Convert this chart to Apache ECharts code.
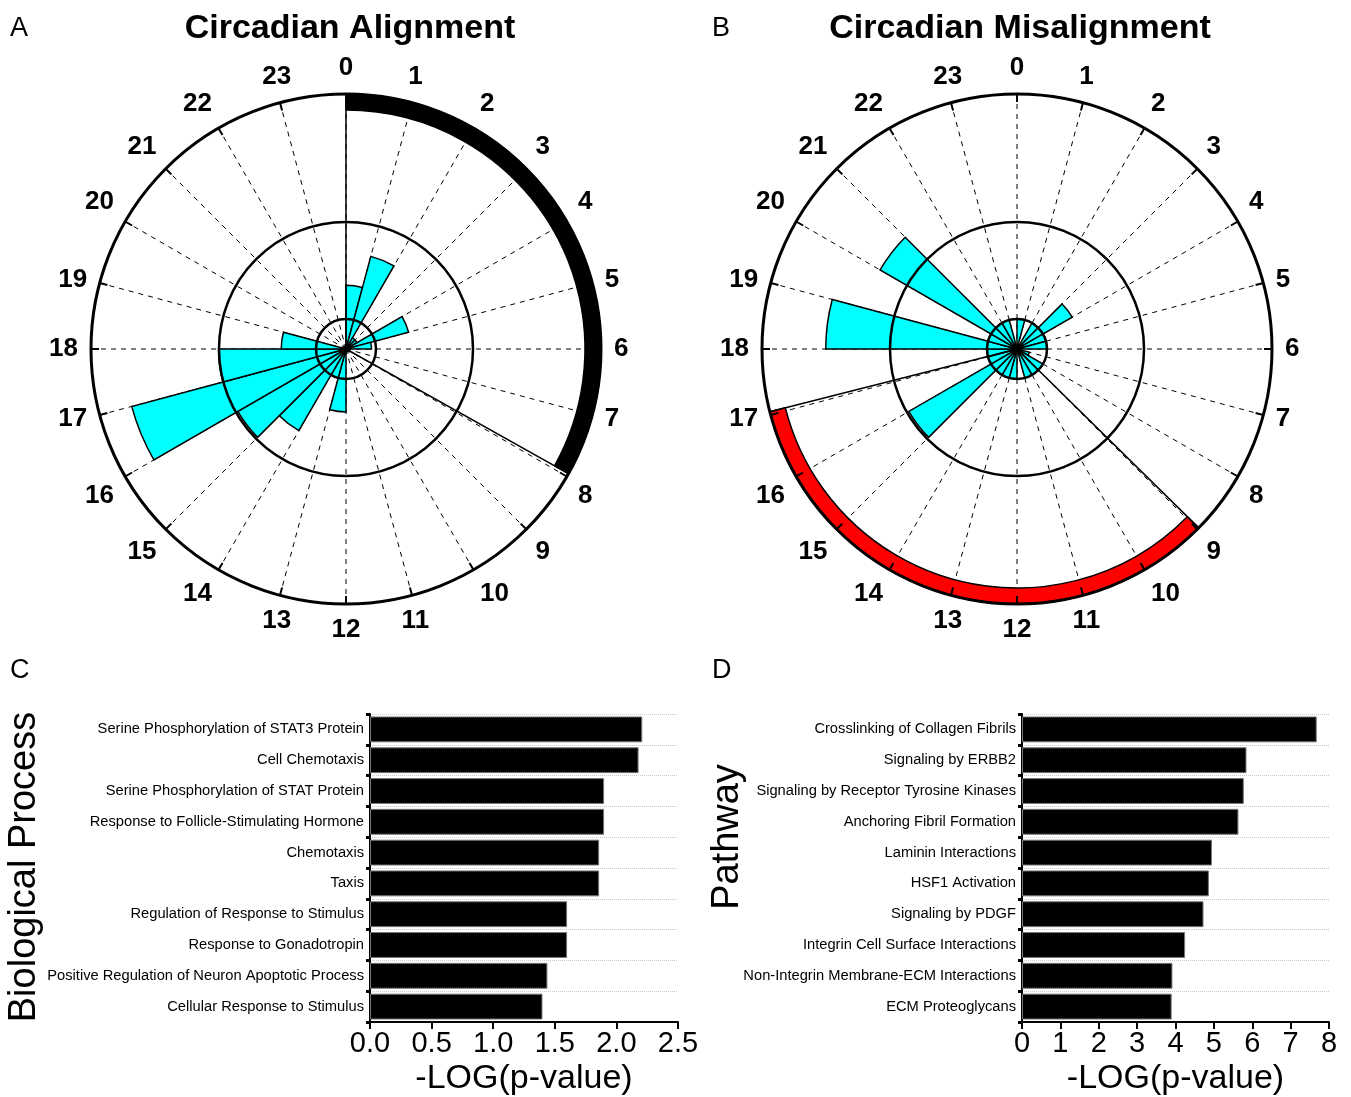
<!DOCTYPE html>
<html>
<head>
<meta charset="utf-8">
<script src="https://cdn.jsdelivr.net/npm/echarts@6/dist/echarts.min.js"></script>
<style>
html,body{margin:0;padding:0;background:#fff;}
#main{width:1351px;height:1097px;}
</style>
</head>
<body>
<div id="main"></div>
<script>
// hour bins of the rose plots (bin i = hour i to i+1)
var hourBins = ['0','1','2','3','4','5','6','7','8','9','10','11','12','13','14','15','16','17','18','19','20','21','22','23'];
// bar length per bin, 1 = outer circle
var alignLen    = [0.25, 0.376, 0.05, 0.05, 0.254, 0.1, 0, 0, 0, 0, 0, 0, 0.247, 0.118, 0.37, 0.49, 0.87, 0.5, 0.254, 0, 0, 0, 0, 0];
var misalignLen = [0.118, 0, 0.118, 0.25, 0.118, 0.118, 0, 0.05, 0.118, 0.118, 0.118, 0, 0.118, 0.118, 0.118, 0.49, 0.118, 0.118, 0.75, 0.118, 0.62, 0.118, 0.118, 0];
// arc on the rim: start hour, end hour
var alignArc    = [0, 7.95];
var misalignArc = [8.97, 17.05];

// bottom bar charts
var bpNames = ['Serine Phosphorylation of STAT3 Protein','Cell Chemotaxis','Serine Phosphorylation of STAT Protein','Response to Follicle-Stimulating Hormone','Chemotaxis','Taxis','Regulation of Response to Stimulus','Response to Gonadotropin','Positive Regulation of Neuron Apoptotic Process','Cellular Response to Stimulus'];
var bpValues = [2.21, 2.18, 1.90, 1.90, 1.86, 1.86, 1.60, 1.60, 1.44, 1.40];
var pwNames = ['Crosslinking of Collagen Fibrils','Signaling by ERBB2','Signaling by Receptor Tyrosine Kinases','Anchoring Fibril Formation','Laminin Interactions','HSF1 Activation','Signaling by PDGF','Integrin Cell Surface Interactions','Non-Integrin Membrane-ECM Interactions','ECM Proteoglycans'];
var pwValues = [7.68, 5.85, 5.78, 5.64, 4.95, 4.87, 4.73, 4.25, 3.92, 3.90];

var arial = '"Liberation Sans",Arial,sans-serif';

var polars = [], angleAxes = [], radiusAxes = [], series = [];

function addRose(cx, cy, lens, arc, arcColor){
  var R = 255;
  var b = polars.length;
  // outer circle, ticks and hour labels (on top)
  polars.push({center:[cx,cy], radius:R});
  angleAxes.push({polarIndex:b, type:'value', min:0, max:24, interval:1, startAngle:90, clockwise:true, z:6,
    axisLine:{show:true, lineStyle:{color:'#000', width:3}},
    axisTick:{show:true, inside:true, length:8, lineStyle:{color:'#000', width:2}},
    axisLabel:{show:true, margin:13, color:'#000', fontSize:26, fontWeight:'bold', fontFamily:arial,
      formatter:function(v){ return v == 24 ? '' : String(v); }},
    splitLine:{show:false}});
  radiusAxes.push({polarIndex:b, type:'value', min:0, max:1, show:false});
  // bars + dashed hour lines
  polars.push({center:[cx,cy], radius:R});
  angleAxes.push({polarIndex:b+1, type:'category', data:hourBins, startAngle:90, clockwise:true, z:0,
    axisLine:{show:false}, axisTick:{show:false}, axisLabel:{show:false},
    splitLine:{show:true, interval:0, lineStyle:{color:'#000', width:1, type:[5,5]}}});
  radiusAxes.push({polarIndex:b+1, type:'value', min:0, max:1, show:false});
  // middle and inner rings
  [127, 30].forEach(function(r, k){
    polars.push({center:[cx,cy], radius:r});
    angleAxes.push({polarIndex:b+2+k, type:'value', min:0, max:24, startAngle:90, z:5,
      axisLine:{show:true, lineStyle:{color:'#000', width:2.5}},
      axisTick:{show:false}, axisLabel:{show:false}, splitLine:{show:false}});
    radiusAxes.push({polarIndex:b+2+k, type:'value', min:0, max:1, show:false});
  });

  series.push({type:'bar', coordinateSystem:'polar', polarIndex:b+1, data:lens, barCategoryGap:'0%', z:2, silent:true,
    itemStyle:{color:'#00FFFF', borderColor:'#000', borderWidth:1.5}});

  var none = {color:'rgba(0,0,0,0)', borderWidth:0};
  // thick band on the rim
  series.push({type:'pie', center:[cx,cy], radius:[239,R], startAngle:90, clockwise:true, silent:true, z:3,
    label:{show:false}, labelLine:{show:false}, emphasis:{disabled:true},
    data:[{value:arc[0], itemStyle:none},
          {value:arc[1]-arc[0], itemStyle:{color:arcColor, borderColor:'#000', borderWidth:1.5}},
          {value:24-arc[1], itemStyle:none}]});
  // radial lines at both ends of the band
  series.push({type:'pie', center:[cx,cy], radius:[0,R], startAngle:90, clockwise:true, silent:true, z:3,
    label:{show:false}, labelLine:{show:false}, emphasis:{disabled:true},
    data:[{value:arc[0], itemStyle:none},
          {value:arc[1]-arc[0], itemStyle:{color:'rgba(0,0,0,0)', borderColor:'#000', borderWidth:1.5}},
          {value:24-arc[1], itemStyle:none}]});
}

addRose(346, 349, alignLen, alignArc, '#000');
addRose(1017, 349, misalignLen, misalignArc, '#FF0000');

function barX(idx, max, step, fmt){
  return {gridIndex:idx, type:'value', min:0, max:max, interval:step,
    name:'-LOG(p-value)', nameLocation:'middle', nameGap:40,
    nameTextStyle:{fontSize:34, fontFamily:arial, color:'#000'},
    axisLine:{show:true, lineStyle:{color:'#000', width:2}},
    axisTick:{show:true, length:7, lineStyle:{color:'#000', width:2}},
    axisLabel:{fontSize:29, fontFamily:arial, color:'#000', margin:7, formatter:fmt},
    splitLine:{show:false}};
}
function barY(idx, names){
  return {gridIndex:idx, type:'category', inverse:true, data:names,
    axisLine:{show:true, lineStyle:{color:'#000', width:2}},
    axisTick:{show:true, length:4, lineStyle:{color:'#000', width:3}},
    axisLabel:{fontSize:14.7, fontFamily:arial, color:'#000', margin:6, interval:0},
    splitLine:{show:true, interval:0, lineStyle:{color:'#c8c8c8', type:'dotted', width:1}}};
}

series.push({type:'bar', xAxisIndex:0, yAxisIndex:0, data:bpValues, barCategoryGap:'16%', silent:true,
  itemStyle:{color:'#000', borderColor:'#777', borderWidth:1}});
series.push({type:'bar', xAxisIndex:1, yAxisIndex:1, data:pwValues, barCategoryGap:'16%', silent:true,
  itemStyle:{color:'#000', borderColor:'#777', borderWidth:1}});

var myChart = echarts.init(document.getElementById('main'));
var option = {
  animation:false,
  backgroundColor:'#fff',
  title:[
    {text:'Circadian Alignment', left:345, top:7, textAlign:'center',
     textStyle:{fontSize:34, fontWeight:'bold', fontFamily:arial, color:'#000'}},
    {text:'Circadian Misalignment', left:1015, top:7, textAlign:'center',
     textStyle:{fontSize:34, fontWeight:'bold', fontFamily:arial, color:'#000'}}
  ],
  polar:polars,
  angleAxis:angleAxes,
  radiusAxis:radiusAxes,
  grid:[
    {left:370, right:673, top:714, bottom:75, outerBoundsMode:'none', containLabel:false},
    {left:1022, right:22, top:714, bottom:75, outerBoundsMode:'none', containLabel:false}
  ],
  xAxis:[
    barX(0, 2.5, 0.5, function(v){ return v.toFixed(1); }),
    barX(1, 8, 1, function(v){ return String(v); })
  ],
  yAxis:[barY(0, bpNames), barY(1, pwNames)],
  graphic:[
    {type:'text', left:10, top:15, style:{text:'A', fontSize:27, fontFamily:arial, fill:'#000'}},
    {type:'text', left:712, top:15, style:{text:'B', fontSize:27, fontFamily:arial, fill:'#000'}},
    {type:'text', left:10, top:657, style:{text:'C', fontSize:27, fontFamily:arial, fill:'#000'}},
    {type:'text', left:712, top:657, style:{text:'D', fontSize:27, fontFamily:arial, fill:'#000'}},
    {type:'text', x:25, y:867, rotation:Math.PI/2,
     style:{text:'Biological Process', fontSize:38, fontFamily:arial, fill:'#000', align:'center', verticalAlign:'middle'}},
    {type:'text', x:728, y:837, rotation:Math.PI/2,
     style:{text:'Pathway', fontSize:38, fontFamily:arial, fill:'#000', align:'center', verticalAlign:'middle'}}
  ],
  series:series
};
myChart.setOption(option);
</script>
</body>
</html>
